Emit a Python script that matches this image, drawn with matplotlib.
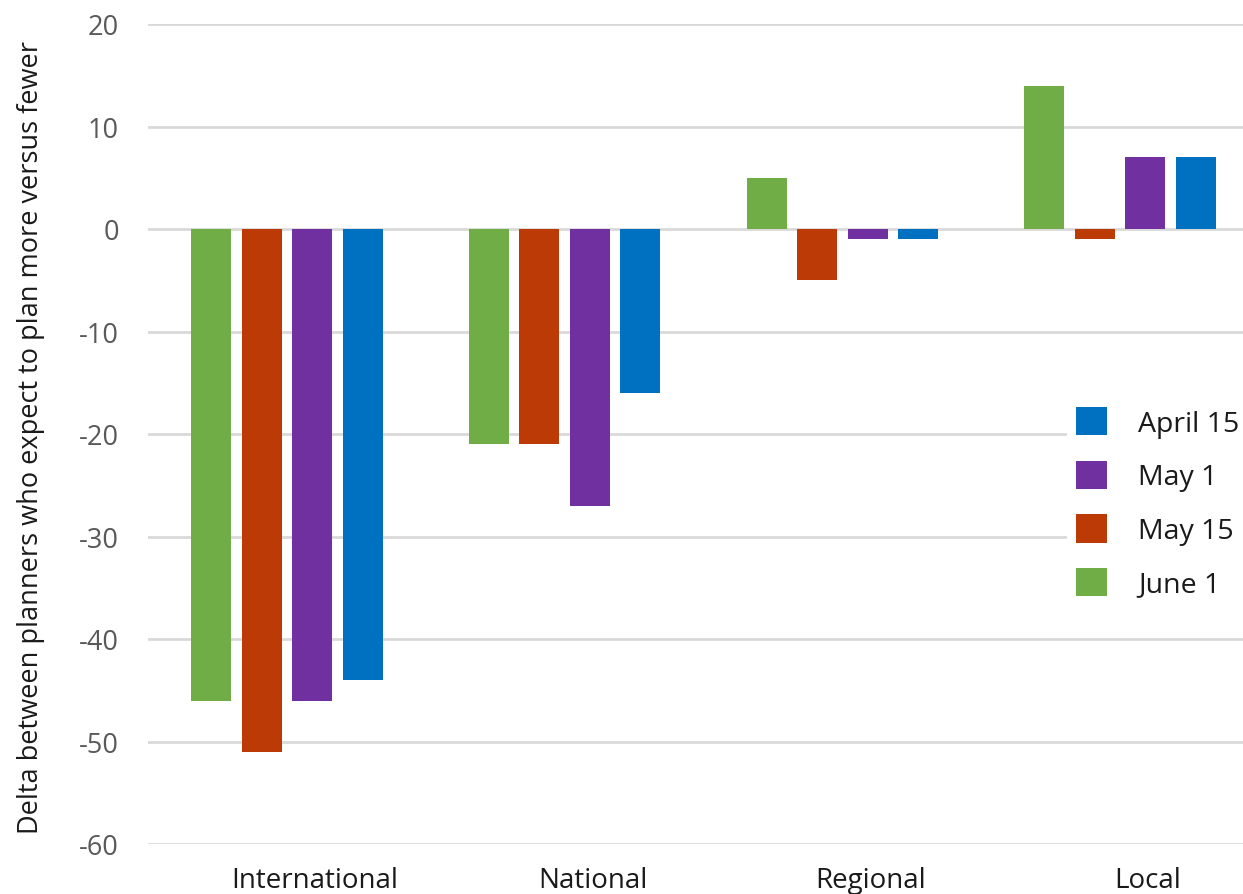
import matplotlib.pyplot as plt
import matplotlib.transforms as mtransforms
import numpy as np

plt.rcParams['font.family'] = ['Open Sans', 'DejaVu Sans']
plt.rcParams['axes.unicode_minus'] = False

# Planning horizons and survey waves
categories = ["International", "National", "Regional", "Local"]
series_names = ["June 1", "May 15", "May 1", "April 15"]
june_1 = [-46, -21, 5, 14]
may_15 = [-51, -21, -5, -1]
may_1 = [-46, -27, -1, 7]
april_15 = [-44, -16, -1, 7]
colors = ["#70AD47", "#BC3A06", "#7030A0", "#0070C0"]

fig = plt.figure(figsize=(12.43, 8.95), dpi=100)
ax = fig.add_axes([148 / 1243, 1 - 845 / 895, (1259 - 148) / 1243, 820 / 895])

x = np.arange(len(categories))
width = 0.144
step = 0.182
bars = []
for i, (name, vals) in enumerate(zip(series_names, [june_1, may_15, may_1, april_15])):
    b = ax.bar(x + (i - 1.5) * step, vals, width, color=colors[i], label=name, zorder=3)
    bars.append(b)

ax.set_xlim(-0.5, len(categories) - 0.5)
ax.set_ylim(-60, 20)
ax.set_yticks(range(-60, 21, 10))
ax.grid(axis='y', color='#D9D9D9', linewidth=2, zorder=0)
ax.set_axisbelow(True)
for s in ax.spines.values():
    s.set_visible(False)

ax.set_xticks(x)
ax.set_xticklabels(categories, fontsize=20, color='#1a1a1a')
ax.tick_params(axis='x', length=0, pad=16)
ax.tick_params(axis='y', length=0, pad=21, labelsize=19.5, labelcolor='#595959')

# category names sit a little right of the bar groups
shift = mtransforms.ScaledTranslation(28 / 100, 0, fig.dpi_scale_trans)
for lbl in ax.get_xticklabels():
    lbl.set_transform(lbl.get_transform() + shift)

ax.set_ylabel("Delta between planners who expect to plan more versus fewer",
              fontsize=19.5, color='#1a1a1a')
ax.yaxis.set_label_coords(-0.093, 0.497)

# legend lists the most recent wave last
handles = bars[::-1]
leg = fig.legend(handles, [series_names[i] for i in range(3, -1, -1)],
                 loc='center left', bbox_to_anchor=(0.847, 0.437),
                 fontsize=20.5, frameon=True, facecolor='white', edgecolor='none',
                 framealpha=1, handlelength=1.1, handleheight=1.15,
                 handletextpad=1.1, labelspacing=0.8, borderpad=0.3)
for t in leg.get_texts():
    t.set_color('#1a1a1a')

fig.savefig("out.png", dpi=100)
